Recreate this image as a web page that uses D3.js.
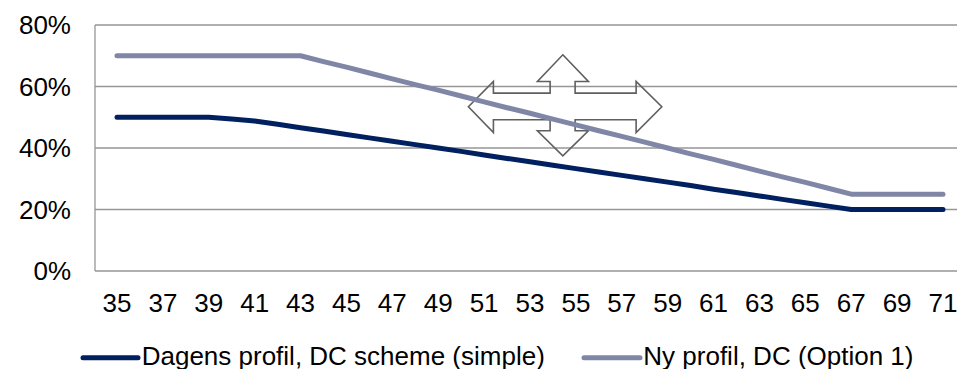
<!DOCTYPE html>
<html>
<head>
<meta charset="utf-8">
<script src="https://cdn.jsdelivr.net/npm/d3@7"></script>
<style>
  html, body { margin: 0; padding: 0; background: #fff; }
  svg { display: block; }
  text { font-family: "Liberation Sans", Arial, sans-serif; fill: #000; }
</style>
</head>
<body>
<svg id="chart" width="957" height="369"></svg>
<script>
// ---- data ----
const ages = [35,36,37,38,39,40,41,42,43,44,45,46,47,48,49,50,51,52,53,
              54,55,56,57,58,59,60,61,62,63,64,65,66,67,68,69,70,71];
const dagens = [50,50,50,50,50,49.4,48.8,47.7,46.6,45.5,44.4,43.3,42.2,41.1,40.0,38.9,37.7,36.6,35.5,
                34.4,33.3,32.2,31.1,30.0,28.9,27.8,26.6,25.5,24.4,23.3,22.2,21.1,20,20,20,20,20];
const nyProfil = [70,70,70,70,70,70,70,70,70,68.1,66.3,64.4,62.5,60.6,58.8,56.9,55,53.1,51.3,
                  49.4,47.5,45.6,43.8,41.9,40,38.1,36.3,34.4,32.5,30.6,28.8,26.9,25,25,25,25,25];
const xTickLabels = [35,37,39,41,43,45,47,49,51,53,55,57,59,61,63,65,67,69,71];
const yTicks = [0,20,40,60,80];
const seriesNames = ["Dagens profil, DC scheme (simple)", "Ny profil, DC (Option 1)"];
const seriesColors = ["#002060", "#7F86A6"];

// ---- layout ----
const svg = d3.select("#chart");
const plotLeft = 95, plotRight = 957, plotTop = 25, plotBottom = 271;

const x = d3.scaleLinear().domain([35, 71]).range([117, 943]);
const y = d3.scaleLinear().domain([0, 80]).range([plotBottom, plotTop]);

// gridlines
svg.append("g").selectAll("line").data(yTicks).join("line")
  .attr("x1", plotLeft).attr("x2", plotRight)
  .attr("y1", d => y(d)).attr("y2", d => y(d))
  .attr("stroke", "#969696").attr("stroke-width", 1.3);
// left axis line
svg.append("line")
  .attr("x1", plotLeft).attr("x2", plotLeft)
  .attr("y1", plotTop).attr("y2", plotBottom)
  .attr("stroke", "#969696").attr("stroke-width", 1.3);

// y labels
svg.append("g").selectAll("text").data(yTicks).join("text")
  .attr("x", 71).attr("y", d => y(d)).attr("dy", "0.36em")
  .attr("text-anchor", "end").style("font-size", "26px")
  .text(d => d + "%");

// x labels
svg.append("g").selectAll("text").data(xTickLabels).join("text")
  .attr("x", d => x(d)).attr("y", 311.5)
  .attr("text-anchor", "middle").style("font-size", "26px")
  .text(d => d);

// arrow annotation (four-way), centered in data space
const ac = [x(54.43), y(53.5)];
const arrowOffsets = [
  [0,-51.7],[25.6,-25],[12.3,-25],[12.3,-13.4],[73.3,-13.4],[73.3,-25],[99,0.3],
  [73.3,26],[73.3,13.3],[12.3,13.3],[12.3,24.3],[25.6,24.3],[0,49.3],
  [-25.4,24.3],[-12.7,24.3],[-12.7,13.3],[-69.4,13.3],[-69.4,26],[-94.4,0.3],
  [-69.4,-25],[-69.4,-13.4],[-12.7,-13.4],[-12.7,-25],[-25.4,-25]
];
svg.append("path")
  .attr("d", d3.line()(arrowOffsets.map(p => [ac[0] + p[0], ac[1] + p[1]])) + "Z")
  .attr("fill", "none").attr("stroke", "#5f5f5f").attr("stroke-width", 1.6)
  .attr("stroke-linejoin", "miter");

// series lines
const line = d3.line().x((d, i) => x(ages[i])).y(d => y(d));
[dagens, nyProfil].forEach((s, k) => {
  svg.append("path").datum(s)
    .attr("d", line)
    .attr("fill", "none")
    .attr("stroke", seriesColors[k])
    .attr("stroke-width", 5)
    .attr("stroke-linecap", "round")
    .attr("stroke-linejoin", "round");
});

// legend
const legendItems = [
  {x0: 83, x1: 138, tx: 141.7, len: 411},
  {x0: 584, x1: 640, tx: 643.3, len: 274}
];
legendItems.forEach((it, k) => {
  svg.append("line")
    .attr("x1", it.x0).attr("x2", it.x1)
    .attr("y1", 357.7).attr("y2", 357.7)
    .attr("stroke", seriesColors[k]).attr("stroke-width", 5)
    .attr("stroke-linecap", "round");
  svg.append("text")
    .attr("x", it.tx).attr("y", 364.5)
    .style("font-size", "26px")
    .text(seriesNames[k]);
});
</script>
</body>
</html>
